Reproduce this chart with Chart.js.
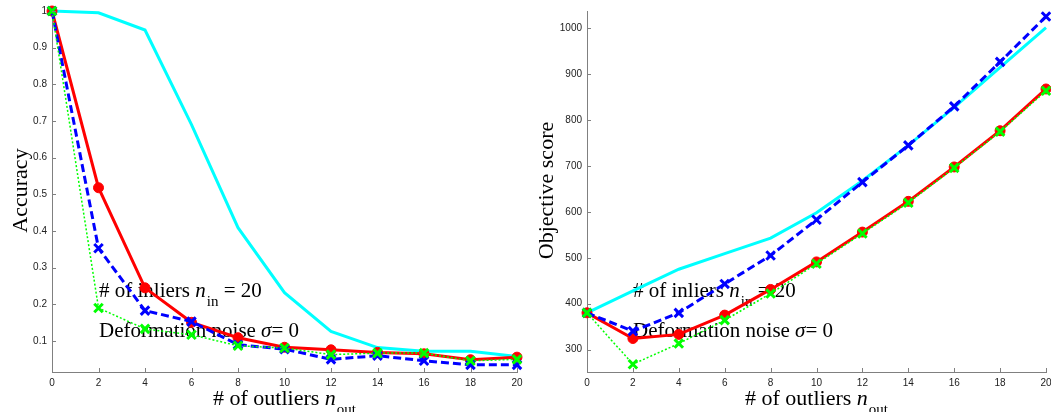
<!DOCTYPE html>
<html>
<head>
<meta charset="utf-8">
<script src="https://cdn.jsdelivr.net/npm/chart.js@4"></script>
<style>
html, body { margin: 0; padding: 0; background: #fff; overflow: hidden; width: 1051px; height: 419px; }
#left { position: absolute; left: 0; top: 0; width: 530px; height: 419px; }
#right { position: absolute; left: 530px; top: 0; width: 530px; height: 419px; }
</style>
</head>
<body>
<div id="left"><canvas id="acc"></canvas></div>
<div id="right"><canvas id="obj"></canvas></div>
<script>
// x values: number of outliers
const outliers = [0, 2, 4, 6, 8, 10, 12, 14, 16, 18, 20];
const accTicks = [0.1, 0.2, 0.3, 0.4, 0.5, 0.6, 0.7, 0.8, 0.9, 1];
const scoreTicks = [300, 400, 500, 600, 700, 800, 900, 1000];

// Accuracy (left)
const accCyan  = [1.0, 0.995, 0.948, 0.69, 0.409, 0.232, 0.126, 0.082, 0.072, 0.072, 0.058];
const accRed   = [1.0, 0.518, 0.245, 0.151, 0.109, 0.083, 0.076, 0.069, 0.065, 0.049, 0.056];
const accBlue  = [1.0, 0.353, 0.183, 0.153, 0.090, 0.078, 0.050, 0.060, 0.046, 0.035, 0.035];
const accGreen = [1.0, 0.190, 0.133, 0.117, 0.087, 0.081, 0.063, 0.067, 0.067, 0.046, 0.050];

// Objective score (right)
const objCyan  = [380, 428, 475, 509, 543, 598, 668, 745, 828, 915, 1002];
const objRed   = [380, 324, 333, 375, 431, 491, 556, 623, 698, 777, 868];
const objBlue  = [380, 340, 380, 443, 505, 583, 665, 745, 830, 927, 1026];
const objGreen = [380, 268, 313, 364, 422, 487, 553, 620, 696, 775, 864];

const SERIF = '"Liberation Serif", "Times New Roman", serif';
const AXIS_GREY = '#808080';

const pts = arr => outliers.map((x, i) => ({ x: x, y: arr[i] }));

// Builds the four series, green ends up on top
function makeDatasets(cyan, red, blue, green) {
    return [
        { data: pts(cyan), borderColor: '#00ffff', borderWidth: 3, pointRadius: 0, order: 4 },
        { data: pts(red), borderColor: '#ff0000', borderWidth: 3, pointStyle: 'circle',
          pointRadius: 5, pointBackgroundColor: '#ff0000', pointBorderColor: '#ff0000', pointBorderWidth: 1, order: 3 },
        { data: pts(blue), borderColor: '#0000ff', borderWidth: 3, borderDash: [8, 4], pointStyle: 'crossRot',
          pointRadius: 6, pointBorderColor: '#0000ff', pointBorderWidth: 3, order: 2 },
        { data: pts(green), borderColor: '#00ff00', borderWidth: 1.5, borderDash: [2, 2], pointStyle: 'crossRot',
          pointRadius: 6, pointBorderColor: '#00ff00', pointBorderWidth: 3, order: 1 },
    ];
}

// Draws a row of text pieces (normal, italic, subscript)
function drawRuns(ctx, x, y, runs) {
    for (const r of runs) {
        ctx.font = r.font;
        ctx.fillText(r.t, x, y + (r.dy || 0));
        x += ctx.measureText(r.t).width + (r.gap || 0);
    }
    return x;
}

function runsWidth(ctx, runs) {
    let w = 0;
    for (const r of runs) { ctx.font = r.font; w += ctx.measureText(r.t).width + (r.gap || 0); }
    return w;
}

const textPlugin = {
    id: 'paperText',
    beforeDatasetsDraw(chart, args, opts) {
        const ctx = chart.ctx;
        const a = chart.chartArea;
        ctx.save();
        ctx.fillStyle = '#000';
        ctx.textBaseline = 'alphabetic';
        ctx.textAlign = 'left';
        // in-plot notes
        drawRuns(ctx, opts.noteX, opts.noteY1, [
            { t: '# of inliers ', font: '21px ' + SERIF },
            { t: 'n', font: 'italic 21px ' + SERIF, gap: 1 },
            { t: 'in', font: '15px ' + SERIF, dy: 9 },
            { t: ' = 20', font: '21px ' + SERIF },
        ]);
        drawRuns(ctx, opts.noteX, opts.noteY2, [
            { t: 'Deformation noise ', font: '21px ' + SERIF },
            { t: '\u03c3', font: 'italic 21px ' + SERIF },
            { t: '= 0', font: '21px ' + SERIF },
        ]);
        // y title
        ctx.save();
        ctx.translate(opts.yTitleX, (a.top + a.bottom) / 2 - 1);
        ctx.rotate(-Math.PI / 2);
        ctx.textAlign = 'center';
        ctx.font = '22px ' + SERIF;
        ctx.fillText(opts.yTitle, 0, 0);
        ctx.restore();
        // x title, cut at the bottom like the original figure
        const xr = [
            { t: '# of outliers ', font: '22px ' + SERIF },
            { t: 'n', font: 'italic 22px ' + SERIF, gap: 1 },
            { t: 'out', font: '15px ' + SERIF, dy: 9 },
        ];
        ctx.save();
        ctx.beginPath();
        ctx.rect(0, 0, chart.width, 412);
        ctx.clip();
        const w = runsWidth(ctx, xr);
        drawRuns(ctx, (a.left + a.right) / 2 - w / 2, 405, xr);
        ctx.restore();
        ctx.restore();
    },
    afterDraw(chart) {
        // short inward tick marks
        const ctx = chart.ctx;
        const a = chart.chartArea;
        const xs = chart.scales.x, ys = chart.scales.y;
        ctx.save();
        ctx.strokeStyle = AXIS_GREY;
        ctx.lineWidth = 1;
        ctx.beginPath();
        for (const t of xs.ticks) {
            const px = Math.round(xs.getPixelForValue(t.value)) + 0.5;
            ctx.moveTo(px, a.bottom);
            ctx.lineTo(px, a.bottom - 4);
        }
        for (const t of ys.ticks) {
            const py = Math.round(ys.getPixelForValue(t.value)) + 0.5;
            ctx.moveTo(a.left, py);
            ctx.lineTo(a.left + 4, py);
        }
        ctx.stroke();
        ctx.restore();
    }
};

function makeConfig(sets, yMin, yMax, yTicks, yWidth, padRight, text) {
    return {
        type: 'line',
        data: { datasets: sets },
        options: {
            responsive: true,
            maintainAspectRatio: false,
            animation: false,
            layout: { padding: { top: 11, right: padRight, left: 0, bottom: 0 } },
            elements: { line: { tension: 0, fill: false } },
            datasets: { line: { clip: false } },
            scales: {
                x: {
                    type: 'linear', min: 0, max: 20,
                    afterBuildTicks: s => { s.ticks = outliers.map(v => ({ value: v })); },
                    afterFit: s => { s.height = 47; },
                    grid: { display: false, drawTicks: false },
                    border: { display: true, color: AXIS_GREY, width: 1 },
                    ticks: { padding: 5, color: '#222', maxRotation: 0,
                             font: { family: '"Liberation Sans", Arial, sans-serif', size: 10 } },
                },
                y: {
                    type: 'linear', min: yMin, max: yMax,
                    afterBuildTicks: s => { s.ticks = yTicks.map(v => ({ value: v })); },
                    afterFit: s => { s.width = yWidth; },
                    grid: { display: false, drawTicks: false },
                    border: { display: true, color: AXIS_GREY, width: 1 },
                    ticks: { padding: 5, color: '#222',
                             callback: v => String(Math.round(v * 100) / 100),
                             font: { family: '"Liberation Sans", Arial, sans-serif', size: 10 } },
                },
            },
            plugins: {
                legend: { display: false },
                tooltip: { enabled: false },
                paperText: text,
            },
        },
        plugins: [textPlugin],
    };
}

new Chart(document.getElementById('acc'), makeConfig(
    makeDatasets(accCyan, accRed, accBlue, accGreen),
    0.0155, 1, accTicks, 52, 13,
    { yTitle: 'Accuracy', yTitleX: 27, noteX: 99, noteY1: 297, noteY2: 337 }
));

new Chart(document.getElementById('obj'), makeConfig(
    makeDatasets(objCyan, objRed, objBlue, objGreen),
    251, 1038, scoreTicks, 57, 14,
    { yTitle: 'Objective score', yTitleX: 23, noteX: 103, noteY1: 297, noteY2: 337 }
));
</script>
</body>
</html>
